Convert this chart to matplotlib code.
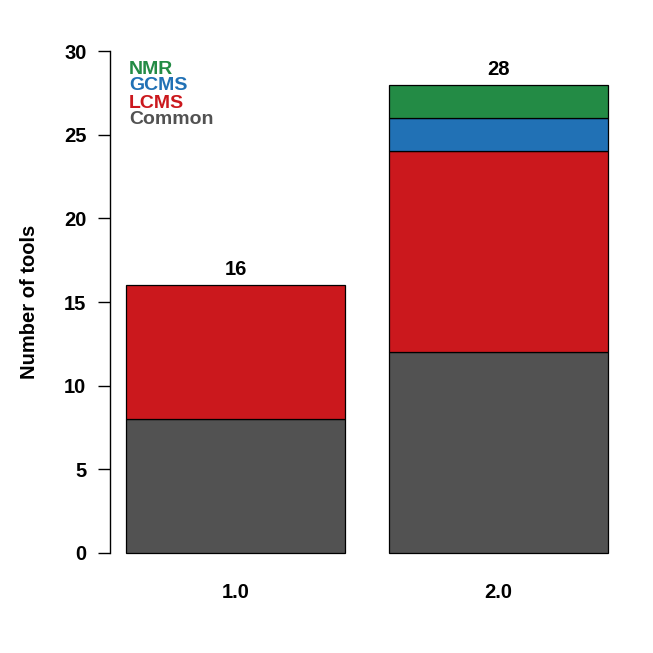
import matplotlib
matplotlib.use("Agg")
import matplotlib.pyplot as plt
import numpy as np

categories = ["1.0", "2.0"]
series_names = ["Common", "LCMS", "GCMS", "NMR"]
common = [8, 12]
lcms = [8, 12]
gcms = [0, 2]
nmr = [0, 2]
totals = [16, 28]
colors = {"Common": "#525252", "LCMS": "#CB181D", "GCMS": "#2171B5", "NMR": "#238B45"}

plt.rcParams['font.family'] = ['Liberation Sans', 'DejaVu Sans']
plt.rcParams['font.weight'] = 'bold'

FS = 14.5

fig = plt.figure(figsize=(6.53, 6.53), dpi=100)
W = H = 653
left_px, right_px, top_px, bot_px = 110, 626, 31, 573
ax = fig.add_axes([left_px / W, 1 - bot_px / H, (right_px - left_px) / W, (bot_px - top_px) / H])

x = np.array([0.0, 1.2])
bottom = np.zeros(2)
for name, vals in zip(series_names, [common, lcms, gcms, nmr]):
    v = np.array(vals, dtype=float)
    mask = v > 0
    ax.bar(x[mask], v[mask], width=1.0, bottom=bottom[mask], color=colors[name],
           edgecolor="black", linewidth=0.9)
    bottom += v

for xi, t in zip(x, totals):
    ax.text(xi, t + 0.35, str(t), ha="center", va="bottom", fontsize=FS, fontweight="bold")

ax.set_xlim(-0.573, 1.782)
ax.set_ylim(-1.2, 31.2)
for s in ["top", "right", "bottom"]:
    ax.spines[s].set_visible(False)
ax.spines["left"].set_bounds(0, 30)
ax.spines["left"].set_linewidth(1)
ax.set_yticks([0, 5, 10, 15, 20, 25, 30])
ax.tick_params(axis="y", length=9, width=1, labelsize=FS, pad=8)
for lbl in ax.get_yticklabels():
    lbl.set_fontweight("bold")
ax.set_xticks(x)
ax.set_xticklabels(categories, fontsize=FS, fontweight="bold")
ax.tick_params(axis="x", length=0, pad=7)
ax.set_ylabel("Number of tools", fontsize=FS, fontweight="bold", labelpad=18)

leg_items = [("NMR", colors["NMR"]), ("GCMS", colors["GCMS"]), ("LCMS", colors["LCMS"]), ("Common", colors["Common"])]
for i, (name, c) in enumerate(leg_items):
    fig.text(129 / W, 1 - (69 + 17 * i) / H, name, color=c, fontsize=14, fontweight="bold",
             ha="left", va="center")

fig.savefig("out.png", dpi=100)
